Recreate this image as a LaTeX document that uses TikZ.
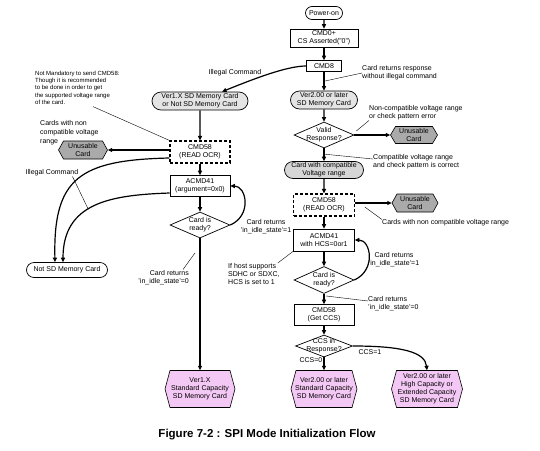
\documentclass[tikz,border=0pt]{standalone}
\usepackage{fontspec}
\setmainfont{Liberation Sans}
\usetikzlibrary{shapes.geometric,shapes.misc,arrows.meta,calc}
\definecolor{lgray}{RGB}{228,228,228}
\definecolor{mgray}{RGB}{214,214,214}
\definecolor{dgray}{RGB}{170,170,170}
\definecolor{pinkf}{RGB}{244,200,244}
\newcommand\hexa[7]{%
  \path[draw,line width=.6pt,fill=#6] ({#2-#4/2},#3) -- ({#2-#4/2+5},{#3-#5/2}) -- ({#2+#4/2-5},{#3-#5/2}) -- ({#2+#4/2},#3) -- ({#2+#4/2-5},{#3+#5/2}) -- ({#2-#4/2+5},{#3+#5/2}) -- cycle;
  \node[align=center,minimum width=#4pt,minimum height=#5pt] (#1) at (#2,#3) {#7};}
\begin{document}
\begin{tikzpicture}[x=1pt,y=-1pt,
  every node/.style={font=\fontsize{7}{8}\selectfont,inner sep=0pt},
  sz/.style 2 args={minimum width=#1pt,minimum height=#2pt},
  box/.style={draw,line width=.6pt,fill=white,align=center},
  dbox/.style={draw,line width=1.2pt,dash pattern=on 3pt off 2pt,fill=white,align=center},
  stad/.style={rounded rectangle,draw,line width=.7pt,align=center},
  dia/.style={diamond,draw,line width=.7pt,fill=white},
  arr/.style={line width=1.2pt,-{Triangle[length=4.5pt,width=4pt]}},
  ann/.style={line width=.4pt},
  lbl/.style={align=left}]
\path[use as bounding box,fill=white] (0,0) rectangle (540,450);

% right column
\node[stad,fill=white,sz={37}{13}] (pon) at (324,13) {Power-on};
\node[box,sz={68}{18}] (cmd0) at (324,38) {CMD0+\\CS Asserted("0")};
\node[box,sz={35}{11}] (cmd8) at (324,66) {CMD8};
\node[stad,fill=lgray,sz={67}{18}] (v2) at (324,100) {Ver2.00 or later\\SD Memory Card};
\node[dia,sz={60}{26}] (valid) at (324,135) {};
\node[align=center] (validt) at (valid) {Valid\\Response?};
\hexa{un1}{414}{135}{47}{17}{dgray}{Unusable\\Card}
\node[stad,fill=mgray,sz={79}{17}] (comp) at (324,170) {Card with compatible\\Voltage range};
\node[dbox,sz={61}{22}] (c58r) at (324,205) {CMD58\\(READ OCR)};
\hexa{un2}{415}{203}{46}{18}{dgray}{Unusable\\Card}
\node[box,sz={61}{22}] (a41r) at (324,240) {ACMD41\\with HCS=0or1};
\node[dia,sz={60}{27}] (rdyr) at (324,280) {};
\node[align=center] (rdyrt) at (rdyr) {Card is\\ready?};
\node[box,sz={60}{21}] (c58g) at (324,315) {CMD58\\(Get CCS)};
\node[dia,sz={57}{22}] (ccs) at (324,346) {};
\node[align=center] (ccst) at (ccs) {CCS in\\Response?};
\hexa{f1}{200}{389}{70}{37}{pinkf}{Ver1.X\\Standard Capacity\\SD Memory Card}
\hexa{f2}{324}{389}{66}{37}{pinkf}{Ver2.00 or later\\Standard Capacity\\SD Memory Card}
\hexa{f3}{427}{389}{71}{37}{pinkf}{Ver2.00 or later\\High Capacity or\\Extended Capacity\\SD Memory Card}

% left column
\node[stad,fill=lgray,sz={96}{18}] (v1) at (200,101) {Ver1.X SD Memory Card\\or Not SD Memory Card};
\node[dbox,sz={60}{22}] (c58l) at (200,152) {CMD58\\(READ OCR)};
\hexa{unl}{83}{150}{49}{18}{dgray}{Unusable\\Card}
\node[box,sz={60}{21}] (a41l) at (200,186) {ACMD41\\(argument=0x0)};
\node[dia,sz={60}{26}] (rdyl) at (200,225) {};
\node[align=center] (rdylt) at (rdyl) {Card is\\ready?};
\node[stad,fill=white,sz={81}{15}] (nsd) at (67,270) {Not SD Memory Card};

% labels
\node (ill1) at (235,73) {Illegal Command};
\node (ill2) at (52,173) {Illegal Command};
\node[lbl,anchor=west] (lab1) at (362,73) {Card returns response\\without illegal command};
\node[lbl,anchor=west] (lab2) at (369,113) {Non-compatible voltage range\\or check pattern error};
\node[lbl,anchor=west] (lab3) at (373,162) {Compatible voltage range\\and check pattern is correct};
\node[anchor=west] (lab4) at (382,223) {Cards with non compatible voltage range};
\node[align=center] (lab5) at (394,260) {Card returns\\'in\_idle\_state'=1};
\node[align=center] (lab6) at (266,227) {Card returns\\'in\_idle\_state'=1};
\node[align=right,anchor=east] (lab7) at (189,278) {Card returns\\'in\_idle\_state'=0};
\node[lbl,anchor=north west] (lab8) at (228,263) {If host supports\\SDHC or SDXC,\\HCS is set to 1};
\node[lbl,anchor=west] (lab9) at (368,304) {Card returns\\'in\_idle\_state'=0};
\node[lbl,anchor=north west,font=\fontsize{6}{7.2}\selectfont] (note) at (35,71) {Not Mandatory to send CMD58:\\Though it is recommended\\to be done in order to get\\the supported voltage range\\of the card.};
\node[lbl,anchor=north west,font=\fontsize{7}{9}\selectfont] (lab11) at (40,120) {Cards with non\\compatible voltage\\range};
\node (ccs0) at (311,360) {CCS=0};
\node (ccs1) at (370,352) {CCS=1};
\node[font=\fontsize{11.5}{13}\selectfont\bfseries] (cap) at (267,435) {Figure 7-2 : SPI Mode Initialization Flow};

% connectors right
\draw[arr] (pon) -- (cmd0);
\draw[arr] (cmd0) -- (cmd8);
\draw[arr] (cmd8) -- coordinate[pos=.5] (k1) (v2);
\draw[arr] (v2) -- (valid);
\draw[arr] (valid) -- coordinate[pos=.45] (k3) (comp);
\draw[arr] (valid) -- (un1);
\draw[arr] (comp) -- (c58r);
\draw[arr] (c58r.east |- un2) -- coordinate[pos=.4] (k4) (un2.west);
\draw[arr] (c58r) -- (a41r);
\draw[arr] (a41r) -- (rdyr);
\draw[arr] (rdyr) -- coordinate[pos=.3] (k6) (c58g);
\draw[arr] (c58g) -- (ccs);
\draw[arr] (ccs) -- (f2);
\draw[arr] (ccs.east) .. controls +(50,0) and +(-2,-18) .. (f3.north);
\draw[arr] (rdyr.east) .. controls +(22,-10) and +(16,0) .. (a41r.east);

% connectors left
\draw[arr] (cmd8.west) .. controls +(-20,0) and +(30,-12) .. ($(v1.north)+(22,0)$);
\draw[arr] (v1) -- (c58l);
\draw[arr] (c58l.west |- unl) -- (unl.east);
\draw[arr] (c58l) -- (a41l);
\draw[arr] (a41l) -- (rdyl);
\draw[arr] (rdyl) -- coordinate[pos=.11] (k7) (f1);
\draw[arr] (rdyl.east) .. controls +(22,-10) and +(16,0) .. (a41l.east);
\draw[arr] ($(c58l.west)+(0,6)$) .. controls +(-90,2) and +(-2,-84) .. ($(nsd.north)+(-12,0)$);
\draw[arr] ($(a41l.west)+(0,7)$) .. controls +(-60,2) and +(0,-59) .. coordinate[pos=.55] (k8) ($(nsd.north)+(-4,0)$);

% annotation lines
\draw[ann] (lab1.west) -- (k1);
\draw[ann] (lab2.south west) -- ($(valid.east)+(2,-4)$);
\draw[ann] (k3) -- ($(lab3.west)+(0,-3)$);
\draw[ann] ($(k4)+(-5,4)$) -- (lab4.north west);
\draw[ann] ($(k7)+(-5,0)$) -- ($(lab7.north east)+(-6,-1)$);
\draw[ann] ($(lab8.north east)+(-2,0)$) -- (a41r.south west);
\draw[ann] ($(k6)+(2,-1)$) -- ($(lab9.west)+(0,-3)$);
\draw[ann] ($(note.south west)+(58,2)$) -- (c58l.north west);
\draw[ann] ($(ill2.south east)+(-6,0)$) -- (k8);
\end{tikzpicture}
\end{document}
